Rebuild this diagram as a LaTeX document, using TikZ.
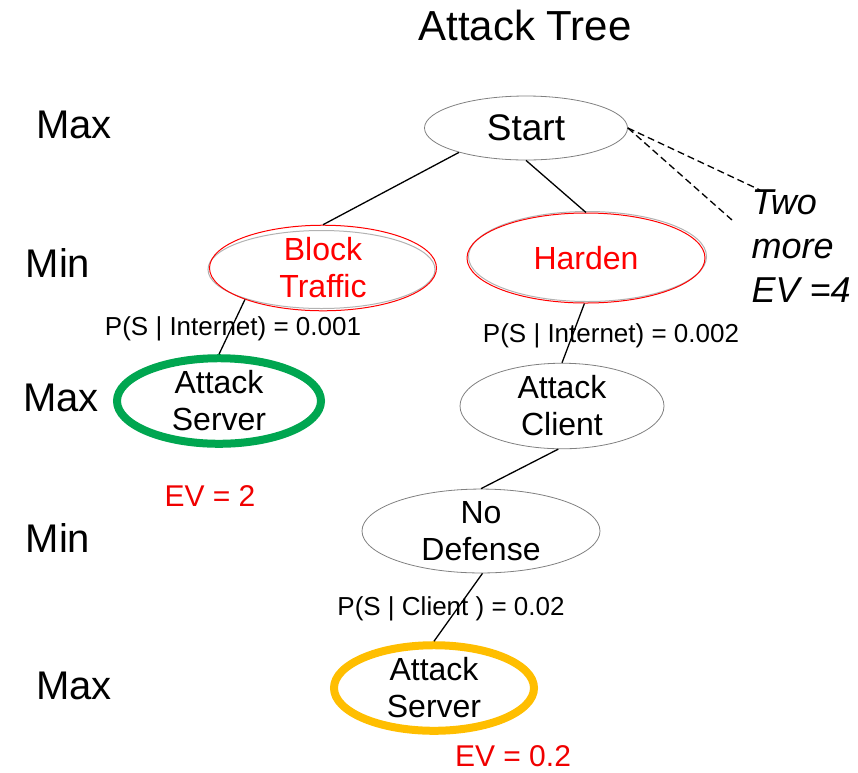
\documentclass[tikz,border=0pt]{standalone}
\usepackage{fontspec}
\setmainfont{Liberation Sans}
\usetikzlibrary{shapes.geometric}
\definecolor{evred}{RGB}{240,0,0}
\definecolor{sgreen}{RGB}{0,166,80}
\definecolor{sorange}{RGB}{255,190,0}
\tikzset{
  fs/.style 2 args={font=\fontsize{#1}{#2}\selectfont},
  tnode/.style={ellipse, draw=gray, line width=0.8pt, inner sep=0pt, align=center, fs={32}{37}},
  rnode/.style={ellipse, draw=red, line width=1pt, text=red, inner sep=0pt, align=center, fs={32}{37}},
  knode/.style={ellipse, line width=8pt, inner sep=0pt, align=center, fs={32}{37}},
  lvl/.style={anchor=center, fs={40}{46}},
  plab/.style={anchor=center, fs={26}{30}},
  ev/.style={anchor=center, text=evred, fs={30}{34}},
  edge/.style={line width=1.3pt},
  dedge/.style={line width=1.3pt, dash pattern=on 7pt off 4pt},
  shadowring/.style={gray!60, line width=1pt},
}
\begin{document}
\begin{tikzpicture}[x=1pt,y=-1pt]
\useasboundingbox (0,0) rectangle (858,772);
\node[anchor=center, fs={42}{48}] (title) at (525,25) {Attack Tree};
\node[lvl] (l1) at (74,125) {Max};
\node[lvl] (l2) at (58,263) {Min};
\node[lvl] (l3) at (61,398) {Max};
\node[lvl] (l4) at (58,538) {Min};
\node[lvl] (l5) at (74,686) {Max};

\node[tnode, fs={37}{42}, minimum width=203, minimum height=64] (start) at (526,128) {Start};
\draw[shadowring] (321.5,269.5) ellipse (113.5 and 39);
\node[rnode, minimum width=227, minimum height=78] (block) at (323,268) {Block\\Traffic};
\draw[shadowring] (587.5,256.5) ellipse (119 and 45);
\node[rnode, minimum width=238, minimum height=90] (harden) at (586,258) {Harden};
\node[knode, draw=sgreen, minimum width=204, minimum height=82] (srv1) at (219,401) {Attack\\Server};
\node[tnode, minimum width=204, minimum height=84] (client) at (562,406) {Attack\\Client};
\node[tnode, minimum width=238, minimum height=77] (nodef) at (481,531) {No\\Defense};
\node[knode, draw=sorange, minimum width=200, minimum height=83] (srv2) at (434,688) {Attack\\Server};

\node[plab] (p1) at (233,329) {P(S | Internet) = 0.001};
\node[plab] (p2) at (611,336) {P(S | Internet) = 0.002};
\node[plab] (p3) at (451,609) {P(S | Client ) = 0.02};
\node[ev] (ev1) at (210,496) {EV = 2};
\node[ev] (ev2) at (513,756) {EV = 0.2};
\node[anchor=north west, align=left, font=\fontsize{36}{44}\selectfont\itshape] (more) at (748,186) {Two\\more\\EV =4};

\coordinate (d1) at (760,190);
\coordinate (d2) at (732,220);

\draw[edge] (start.200) -- (block.north);
\draw[edge] (start.south) -- (harden.north);
\draw[edge] (block.202) -- (srv1.north);
\draw[edge] (harden.268) -- (client.north);
\draw[edge] (client.265) -- (nodef.north);
\draw[edge] (nodef.272) -- (srv2.north);
\draw[dedge] (start.east) -- (d1);
\draw[dedge] (start.east) -- (d2);
\end{tikzpicture}
\end{document}
